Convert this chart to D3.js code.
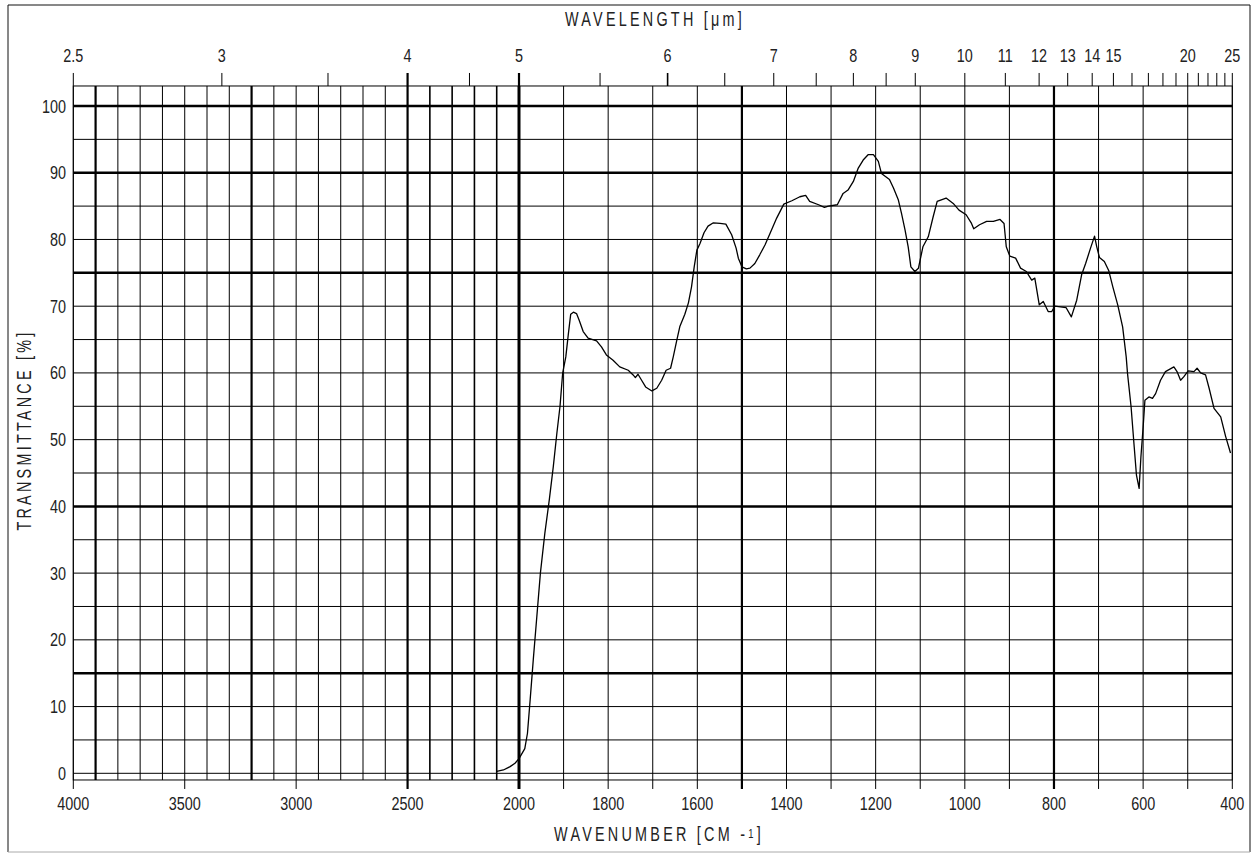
<!DOCTYPE html>
<html>
<head>
<meta charset="utf-8">
<script src="https://cdn.jsdelivr.net/npm/d3@7"></script>
<style>
  body { margin: 0; background: #fff; }
  text { font-family: "Liberation Sans", Arial, sans-serif; fill: #222; }
</style>
</head>
<body>
<script>
// IR spectrum sheet: wavenumber (bottom, split scale at 2000) vs transmittance.

const WIDTH  = 1258;
const HEIGHT = 854;
const SX = 0.8;   // horizontal squeeze for the narrow chart lettering

// Spectrum: wavenumber [cm-1] and transmittance [%].
const WAVENUMBER = [
  2100, 2070, 2040, 2018, 2000, 1987, 1981, 1975, 1968, 1960, 1952, 1942,
  1932, 1923, 1915, 1908, 1902, 1895, 1889, 1884, 1878, 1871, 1865, 1856,
  1845, 1826, 1815, 1804, 1789, 1774, 1755, 1744, 1739, 1733, 1725, 1716,
  1702, 1691, 1680, 1670, 1660, 1654, 1646, 1639, 1628, 1620, 1613, 1607,
  1601, 1594, 1585, 1576, 1564, 1549, 1536, 1523, 1513, 1508, 1500, 1490,
  1482, 1471, 1460, 1448, 1437, 1422, 1406, 1388, 1370, 1357, 1348, 1328,
  1315, 1306, 1286, 1273, 1262, 1250, 1239, 1228, 1217, 1205, 1194, 1187,
  1169, 1160, 1149, 1142, 1134, 1127, 1121, 1112, 1104, 1094, 1082, 1071,
  1062, 1042, 1026, 1013, 997, 985, 980, 967, 951, 936, 921, 912,
  907, 899, 886, 875, 862, 850, 843, 833, 824, 813, 805, 798,
  773, 761, 749, 738, 729, 718, 709, 704, 698, 687, 677, 668,
  657, 646, 638, 635, 627, 620, 615, 609, 605, 600, 596, 587,
  579, 572, 561, 550, 531, 524, 516, 509, 499, 486, 479, 471,
  460, 452, 441, 426, 415, 404
];
const TRANSMITTANCE = [
  0.3, 0.5, 1.0, 1.5, 2.2, 3.7, 6.0, 11, 17, 23.5, 30, 36,
  41, 46, 51, 55, 60, 62.4, 66, 68.8, 69.1, 68.9, 67.9, 66.2,
  65.2, 64.8, 63.9, 62.7, 61.9, 60.9, 60.4, 59.7, 59.3, 59.8, 58.9, 57.9,
  57.3, 57.7, 58.9, 60.4, 60.7, 62.4, 64.9, 67.0, 68.8, 70.5, 72.9, 75.9,
  78.4, 79.4, 81.0, 82.0, 82.5, 82.4, 82.3, 80.7, 78.7, 77.2, 75.9, 75.6,
  75.7, 76.4, 77.7, 79.2, 80.9, 83.2, 85.3, 85.8, 86.4, 86.6, 85.7, 85.2,
  84.8, 85.0, 85.2, 86.9, 87.4, 88.7, 90.7, 91.9, 92.7, 92.7, 91.7, 89.9,
  89.0, 87.7, 85.9, 83.9, 81.4, 78.9, 75.9, 75.2, 75.7, 78.9, 80.4, 83.4,
  85.7, 86.2, 85.4, 84.4, 83.7, 82.4, 81.6, 82.2, 82.7, 82.7, 83.0, 82.4,
  78.9, 77.5, 77.2, 75.7, 75.2, 73.9, 74.2, 70.2, 70.7, 69.2, 69.2, 70.0,
  69.8, 68.4, 70.9, 74.7, 76.4, 78.7, 80.5, 78.9, 77.3, 76.7, 75.3, 72.9,
  70.2, 66.9, 62.4, 59.9, 54.9, 48.9, 44.7, 42.7, 47.4, 51.9, 55.9, 56.4,
  56.2, 56.9, 58.9, 60.2, 60.9, 60.2, 58.9, 59.4, 60.3, 60.2, 60.7, 60.0,
  59.7, 57.7, 54.7, 53.4, 50.5, 48.0
];

// Axis labels.
const BOTTOM_LABELS = [4000, 3500, 3000, 2500, 2000, 1800, 1600, 1400, 1200, 1000, 800, 600, 400];
const Y_LABELS = [0, 10, 20, 30, 40, 50, 60, 70, 80, 90, 100];
const TOP_LABELS = [2.5, 3, 4, 5, 6, 7, 8, 9, 10, 11, 12, 13, 14, 15, 20, 25];
const TOP_TICKS = [2.5, 3, 3.5, 4, 4.5, 5, 5.5, 6, 6.5, 7, 7.5, 8, 8.5, 9, 10, 11, 12,
                   13, 14, 15, 16, 17, 18, 19, 20, 21, 22, 23, 24, 25];

// Which grid lines are drawn heavy.
const HEAVY_V = [3900, 3200, 2500, 1500, 800];
const BOLD_V  = [2400, 2300, 2200, 2100];
const HEAVY_H = [100, 90, 75, 40, 15];

const svg = d3.select('body').append('svg')
              .attr('width', WIDTH)
              .attr('height', HEIGHT);

// Two linear pieces: 4000-2000 at half the scale of 2000-400.
const x = d3.scaleLinear().domain([4000, 2000, 400]).range([73.3, 519, 1232.3]);
const y = d3.scaleLinear().domain([0, 100]).range([773.3, 106]);

const TOP = y(103), BOTTOM = y(-1);
const LEFT = x(4000), RIGHT = x(400);

// outer sheet border
svg.append('path')
   .attr('d', `M8,852 V5 H1250 V852`)
   .attr('fill', 'none').attr('stroke', '#111');
svg.append('line')
   .attr('x1', 8).attr('x2', 1250).attr('y1', 852).attr('y2', 852)
   .attr('stroke', '#aaa');

const grid = svg.append('g').attr('stroke', '#000').attr('fill', 'none');

// vertical lines every 100 cm-1
const vLines = d3.range(4000, 399, -100);
grid.selectAll('line.v')
    .data(vLines)
    .enter().append('line')
    .attr('x1', d => x(d)).attr('x2', d => x(d))
    .attr('y1', TOP).attr('y2', BOTTOM)
    .attr('stroke-width', d => d === 2000 ? 3 : HEAVY_V.includes(d) ? 2.2
                             : BOLD_V.includes(d) ? 1.6 : 1);

// horizontal lines every 5 %
const hLines = d3.range(0, 101, 5);
grid.selectAll('line.h')
    .data(hLines)
    .enter().append('line')
    .attr('x1', LEFT).attr('x2', RIGHT)
    .attr('y1', d => y(d)).attr('y2', d => y(d))
    .attr('stroke-width', d => HEAVY_H.includes(d) ? 2.5 : 1);

grid.append('rect')
    .attr('x', LEFT).attr('y', TOP)
    .attr('width', RIGHT - LEFT).attr('height', BOTTOM - TOP)
    .attr('stroke-width', 1);

// bottom ticks
const bottomTicks = [4000, 3500, 3000, 2500].concat(d3.range(2000, 399, -100));
grid.selectAll('line.bt')
    .data(bottomTicks)
    .enter().append('line')
    .attr('x1', d => x(d)).attr('x2', d => x(d))
    .attr('y1', BOTTOM).attr('y2', BOTTOM + 9)
    .attr('stroke-width', d => d === 2000 ? 3 : HEAVY_V.includes(d) ? 2.2 : 1);

// top ticks at wavelength positions
grid.selectAll('line.tt')
    .data(TOP_TICKS)
    .enter().append('line')
    .attr('x1', d => x(10000 / d)).attr('x2', d => x(10000 / d))
    .attr('y1', TOP - 13).attr('y2', TOP)
    .attr('stroke-width', d => (d === 5 || d === 4) ? 2.2 : (d === 6 ? 1.6 : 1));

// narrow lettering: squeeze text horizontally around its anchor
const label = (px, py, str, anchor, size) =>
    svg.append('text')
       .attr('transform', `translate(${px},${py}) scale(${SX},1)`)
       .attr('text-anchor', anchor)
       .style('font-size', `${size}px`)
       .text(str);

BOTTOM_LABELS.forEach(d => label(x(d), 810, d, 'middle', 18));
Y_LABELS.forEach(d => label(66, y(d) + 6.5, d, 'end', 18));
TOP_LABELS.forEach(d => label(x(10000 / d), 61.5, d, 'middle', 18));

// titles
svg.append('text')
   .attr('transform', `translate(655,26) scale(0.72,1)`)
   .attr('text-anchor', 'middle')
   .style('font-size', '20px')
   .style('letter-spacing', '4.5px')
   .text('WAVELENGTH [μm]');

const xt = svg.append('text')
   .attr('transform', `translate(659,841) scale(0.72,1)`)
   .attr('text-anchor', 'middle')
   .style('font-size', '20px')
   .style('letter-spacing', '4.5px');
xt.append('tspan').text('WAVENUMBER [CM -');
xt.append('tspan').style('font-size', '13px').attr('dy', -3).text('1');
xt.append('tspan').attr('dy', 3).text(']');

svg.append('text')
   .attr('transform', `translate(31,430) rotate(-90) scale(0.72,1)`)
   .attr('text-anchor', 'middle')
   .style('font-size', '20px')
   .style('letter-spacing', '4.5px')
   .text('TRANSMITTANCE [%]');

// the spectrum trace
const spectrum = d3.zip(WAVENUMBER, TRANSMITTANCE);
const line = d3.line().x(d => x(d[0])).y(d => y(d[1]));

svg.append('path')
   .datum(spectrum)
   .attr('d', line)
   .attr('fill', 'none')
   .attr('stroke', '#000')
   .attr('stroke-width', 1.3)
   .attr('stroke-linejoin', 'round');
</script>
</body>
</html>
